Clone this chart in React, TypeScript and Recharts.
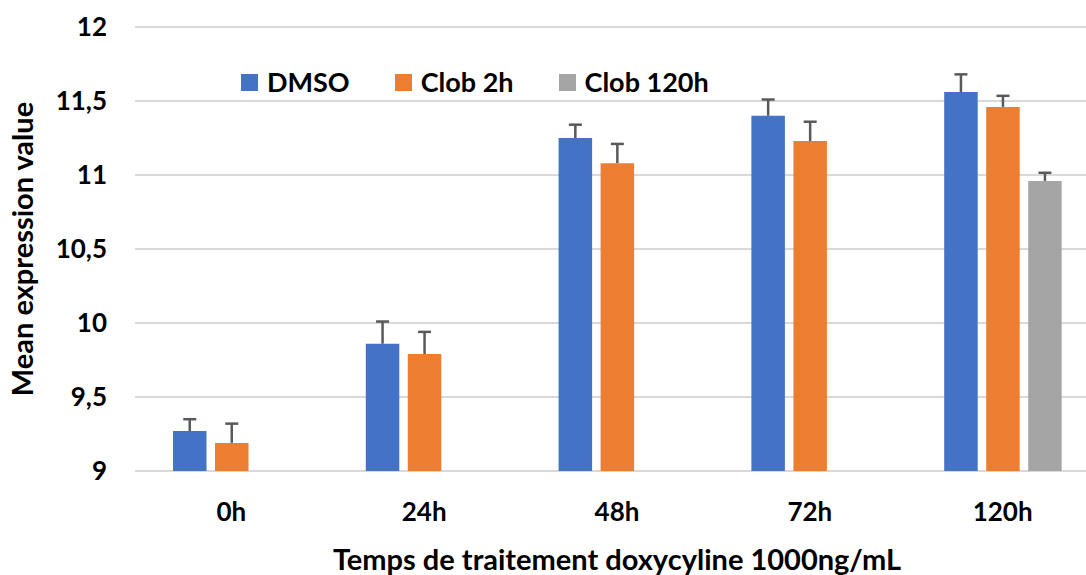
import { BarChart, Bar, XAxis, YAxis, CartesianGrid, Legend, Rectangle } from "recharts";

const categories = ["0h", "24h", "48h", "72h", "120h"];
const dmso = [9.27, 9.86, 11.25, 11.4, 11.56];
const dmsoErr = [0.08, 0.15, 0.09, 0.11, 0.12];
const clob2h = [9.19, 9.79, 11.08, 11.23, 11.46];
const clob2hErr = [0.13, 0.15, 0.13, 0.13, 0.075];
const clob120h = [null, null, null, null, 10.96];
const clob120hErr = [null, null, null, null, 0.055];
const yTicks = [9, 9.5, 10, 10.5, 11, 11.5, 12];
const seriesOrder = ["DMSO", "Clob 2h", "Clob 120h"];

const data = categories.map((c, i) => ({
  cat: c,
  dmso: dmso[i],
  dmsoErr: dmsoErr[i],
  clob2h: clob2h[i],
  clob2hErr: clob2hErr[i],
  clob120h: clob120h[i],
  clob120hErr: clob120hErr[i],
}));

const FONT = "Lato, 'Open Sans', sans-serif";
const Y_MIN = 9;

// bar plus an upward-only error whisker, scaled from the bar's own pixel height
const barWithError = (errKey: string) => (props: any) => {
  const { x, y, width, height, payload, fill, value } = props;
  const v = Array.isArray(value) ? value[1] : value;
  const err = payload[errKey];
  const pxPerUnit = v > Y_MIN ? height / (v - Y_MIN) : 0;
  const cx = x + width / 2;
  const top = y - err * pxPerUnit;
  return (
    <g>
      <Rectangle x={x} y={y} width={width} height={height} fill={fill} />
      {err != null && (
        <g stroke="#595959" strokeWidth={2.5}>
          <line x1={cx} x2={cx} y1={y} y2={top} />
          <line x1={cx - 6.5} x2={cx + 6.5} y1={top} y2={top} />
        </g>
      )}
    </g>
  );
};

const renderLegend = (props: any) => {
  const items = [...props.payload].sort(
    (a: any, b: any) => seriesOrder.indexOf(a.value) - seriesOrder.indexOf(b.value)
  );
  return (
    <div style={{ display: "flex", gap: 45, fontFamily: FONT, fontWeight: 700, fontSize: 27, color: "#000", lineHeight: "30px" }}>
      {items.map((p: any) => (
        <div key={p.value} style={{ display: "flex", alignItems: "center", gap: 9 }}>
          <span style={{ width: 17, height: 17, background: p.color, display: "inline-block" }} />
          <span>{p.value}</span>
        </div>
      ))}
    </div>
  );
};

const App = () => {
  return (
    <div style={{ position: "absolute", left: 0, top: 0, width: 1086, height: 575, overflow: "hidden", background: "#fff" }}>
      <BarChart
        width={1110}
        height={575}
        data={data}
        margin={{ top: 27, right: 11, left: 0, bottom: 44 }}
        barSize={33.5}
        barGap={8.5}
      >
        <CartesianGrid vertical={false} stroke="#d9d9d9" strokeWidth={2} />
        <XAxis
          dataKey="cat"
          height={60}
          axisLine={false}
          tickLine={false}
          tickSize={0}
          tickMargin={32}
          tick={{ fill: "#000", fontSize: 26, fontWeight: 700, fontFamily: FONT }}
          label={{
            value: "Temps de traitement doxycyline 1000ng/mL",
            position: "insideBottom",
            offset: -39,
            fill: "#000",
            fontSize: 29,
            fontWeight: 700,
            fontFamily: FONT,
          }}
        />
        <YAxis
          width={135}
          domain={[9, 12]}
          ticks={yTicks}
          axisLine={false}
          tickLine={false}
          tickSize={0}
          tickMargin={28}
          tickFormatter={(v: number) => String(v).replace(".", ",")}
          tick={{ fill: "#000", fontSize: 26, fontWeight: 700, fontFamily: FONT }}
          label={{
            value: "Mean expression value",
            angle: -90,
            position: "insideLeft",
            offset: 0,
            dx: 23,
            fill: "#000",
            fontSize: 29,
            fontWeight: 700,
            fontFamily: FONT,
            style: { textAnchor: "middle" },
          }}
        />
        <Legend
          layout="horizontal"
          verticalAlign="middle"
          content={renderLegend}
          wrapperStyle={{ position: "absolute", top: 67, left: 241, width: "auto" }}
        />
        <Bar dataKey="dmso" name="DMSO" fill="#4472C4" shape={barWithError("dmsoErr")} isAnimationActive={false} />
        <Bar dataKey="clob2h" name="Clob 2h" fill="#ED7D31" shape={barWithError("clob2hErr")} isAnimationActive={false} />
        <Bar dataKey="clob120h" name="Clob 120h" fill="#A5A5A5" shape={barWithError("clob120hErr")} isAnimationActive={false} />
      </BarChart>
    </div>
  );
};

export default App;
